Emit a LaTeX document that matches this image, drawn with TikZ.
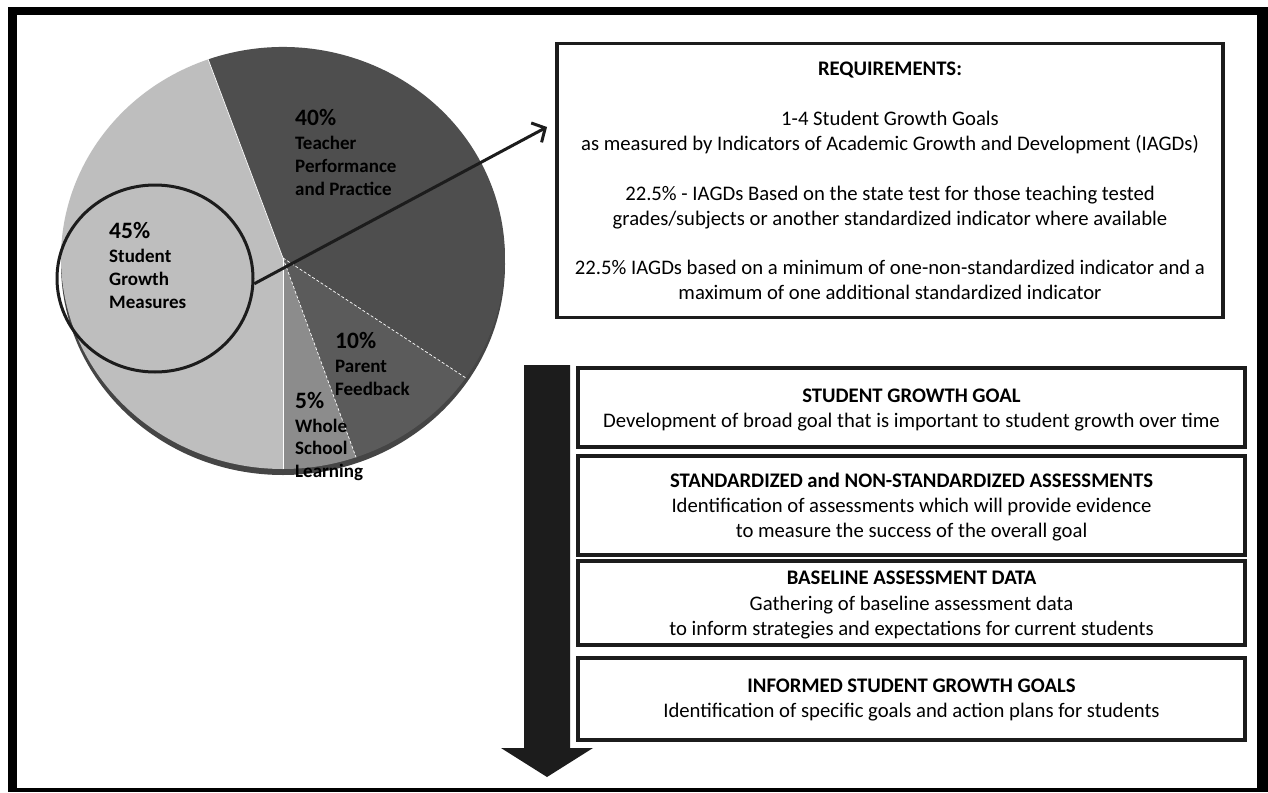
\documentclass[tikz,border=0pt]{standalone}
\usepackage{fontspec}
\setmainfont{Carlito}
\usetikzlibrary{arrows.meta,shapes.geometric}
\definecolor{slStudent}{HTML}{BEBEBE}
\definecolor{slTeacher}{HTML}{4E4E4E}
\definecolor{slParent}{HTML}{5B5B5B}
\definecolor{slWhole}{HTML}{8C8C8C}
\definecolor{pieRim}{HTML}{454545}
\definecolor{ink}{HTML}{1C1C1C}
\begin{document}
\begin{tikzpicture}[x=1pt,y=-1pt,
  boxframe/.style={draw=ink,line width=4pt,fill=none,inner sep=0pt},
  txt/.style={anchor=base,inner sep=0pt,font=\fontsize{20.7}{25}\selectfont},
  txtb/.style={txt,font=\fontsize{20.7}{25}\selectfont\bfseries},
  pct/.style={anchor=base west,inner sep=0pt,font=\fontsize{23.5}{27}\selectfont\bfseries},
  plab/.style={anchor=base west,inner sep=0pt,font=\fontsize{19}{23}\selectfont\bfseries},
  sep/.style={white,line width=0.7pt},
  pointer/.style={ink,line width=3pt,-{Straight Barb[length=10pt,width=22pt,line width=3pt]}}
]
\useasboundingbox (0,0) rectangle (1268,792);

% page frame
\fill[black] (8,7) rectangle (1268,792);
\fill[white] (17,15) rectangle (1257,788);

% ---- pie chart (slightly tilted, hence elliptical) ----
\fill[pieRim] (283,264) ellipse[x radius=222,y radius=211];
\begin{scope}[shift={(283,258)}]
  \coordinate (pc) at (0,0);
  \fill[slStudent] (pc) -- (-109.7:222 and 211) arc[start angle=-109.7,end angle=-270,x radius=222,y radius=211] -- cycle;
  \fill[slTeacher] (pc) -- (-109.7:222 and 211) arc[start angle=-109.7,end angle=34.6,x radius=222,y radius=211] -- cycle;
  \fill[slParent]  (pc) -- (34.6:222 and 211) arc[start angle=34.6,end angle=70.8,x radius=222,y radius=211] -- cycle;
  \fill[slWhole]   (pc) -- (70.8:222 and 211) arc[start angle=70.8,end angle=90,x radius=222,y radius=211] -- cycle;
  \draw[sep] (pc) -- (-109.7:222 and 211);
  \draw[sep,densely dashed] (pc) -- (34.6:222 and 211);
  \draw[sep,densely dashed] (pc) -- (70.8:222 and 211);
  \draw[sep] (pc) -- (90:222 and 211);
\end{scope}

% slice labels
\node[pct]  (p40) at (295,125) {40\%};
\node[plab] (p40a) at (295,149) {Teacher};
\node[plab] (p40b) at (295,172) {Performance};
\node[plab] (p40c) at (295,195) {and Practice};

\node[pct]  (p45) at (109,238) {45\%};
\node[plab] (p45a) at (109,262) {Student};
\node[plab] (p45b) at (109,285) {Growth};
\node[plab] (p45c) at (109,308) {Measures};

\node[pct]  (p10) at (335,348) {10\%};
\node[plab] (p10a) at (335,372) {Parent};
\node[plab] (p10b) at (335,395) {Feedback};

\node[pct]  (p5) at (295,408) {5\%};
\node[plab] (p5a) at (295,432) {Whole};
\node[plab] (p5b) at (295,454) {School};
\node[plab] (p5c) at (295,477) {Learning};

% highlighted slice and pointer to the requirements
\node[draw=ink,line width=3pt,ellipse,minimum width=196pt,minimum height=187pt,inner sep=0pt] (focus) at (155,278.5) {};
\coordinate (reqin) at (547,127);
\draw[pointer] (focus.-3) -- (reqin);

% ---- requirements box ----
\node[boxframe,line width=3.5pt,minimum width=666pt,minimum height=274pt] (req) at (890,180.5) {};
\node[txtb] (rq0) at (890,75)  {REQUIREMENTS:};
\node[txt]  (rq1) at (890,125) {1-4 Student Growth Goals};
\node[txt]  (rq2) at (890,150) {as measured by Indicators of Academic Growth and Development (IAGDs)};
\node[txt]  (rq3) at (890,200) {22.5\% - IAGDs Based on the state test for those teaching tested};
\node[txt]  (rq4) at (890,225) {grades/subjects or another standardized indicator where available};
\node[txt]  (rq5) at (890,274) {22.5\% IAGDs based on a minimum of one-non-standardized indicator and a};
\node[txt]  (rq6) at (890,299) {maximum of one additional standardized indicator};

% ---- process arrow ----
\fill[ink] (524,365) -- (570,365) -- (570,748) -- (593,748) -- (547,777)
  -- (501,748) -- (524,748) -- cycle;

% ---- process steps ----
\node[boxframe,minimum width=667pt,minimum height=79.5pt] (s1) at (911.5,407.25) {};
\node[txtb] (s1a) at (911.5,402) {STUDENT GROWTH GOAL};
\node[txt]  (s1b) at (911.5,427) {Development of broad goal that is important to student growth over time};

\node[boxframe,minimum width=667pt,minimum height=98.5pt] (s2) at (911.5,505.25) {};
\node[txtb] (s2a) at (911.5,487) {STANDARDIZED and NON-STANDARDIZED ASSESSMENTS};
\node[txt]  (s2b) at (911.5,512.5) {Identification of assessments which will provide evidence};
\node[txt]  (s2c) at (911.5,537) {to measure the success of the overall goal};

\node[boxframe,minimum width=667pt,minimum height=84pt] (s3) at (911.5,603) {};
\node[txtb] (s3a) at (911.5,584) {BASELINE ASSESSMENT DATA};
\node[txt]  (s3b) at (911.5,610) {Gathering of baseline assessment data};
\node[txt]  (s3c) at (911.5,635) {to inform strategies and expectations for current students};

\node[boxframe,minimum width=667pt,minimum height=82pt] (s4) at (911.5,698.5) {};
\node[txtb] (s4a) at (911.5,692) {INFORMED STUDENT GROWTH GOALS};
\node[txt]  (s4b) at (911.5,717) {Identification of specific goals and action plans for students};
\end{tikzpicture}
\end{document}
